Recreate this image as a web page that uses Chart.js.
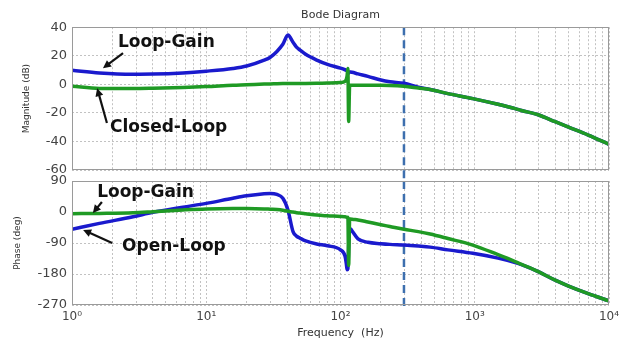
<!DOCTYPE html>
<html><head><meta charset="utf-8">
<script src="https://cdn.jsdelivr.net/npm/chart.js@4.4.1/dist/chart.umd.min.js"></script>
<style>
html,body{margin:0;padding:0;background:#fff;}
#wrap{position:relative;width:635px;height:344px;overflow:hidden;background:#fff;}
#c1wrap{position:absolute;left:0;top:0;width:635px;height:190px;}
#c2wrap{position:absolute;left:0;top:166px;width:635px;height:178px;}
</style></head><body>
<div id="wrap"><div id="c1wrap"><canvas id="mag"></canvas></div><div id="c2wrap"><canvas id="phase"></canvas></div></div>
<script>
// ---- data ----
const FREQ_HZ = [1, 1.6, 2.85, 4, 6.7, 10, 15.8, 20, 27, 30, 33.6, 37.2, 40.6, 44.3, 47, 50, 55, 66.5, 80, 100,
  108, 110.5, 112, 113.5, 115, 117, 119, 122, 135, 160, 200, 233, 297, 380, 465, 631, 967, 1490, 2000, 2230,
  3000, 3970, 5000, 7000, 10000];
const MAG_LOOP_GAIN_DB = [9.9, 8.0, 7.1, 7.2, 8.0, 9.2, 11.1, 12.8, 16.9, 19.0, 23, 28, 34.5, 29.5, 26, 24, 21, 17, 14, 11.3,
  10.2, 9.8, 9.5, 8.5, 7.8, 8.6, 8.6, 8.4, 7.3, 5.6, 3.0, 1.8, 0.7, -2, -3.6, -6.5, -10, -14, -17, -18.3,
  -21.5, -26.2, -30, -35.5, -42];
const MAG_CLOSED_LOOP_DB = [-1.3, -2.9, -2.9, -2.7, -2.2, -1.6, -0.6, -0.3, 0.2, 0.3, 0.4, 0.5, 0.6, 0.6, 0.6, 0.6, 0.6, 0.7, 0.9, 1.2,
  2, 3.5, 6, 11, -26, -0.7, -0.7, -0.7, -0.7, -0.7, -0.7, -0.8, -1.4, -2.6, -3.6, -6.5, -10, -14, -17, -18.3,
  -21.5, -26.2, -30, -35.5, -42];
const PHASE_OPEN_LOOP_DEG = [-50, -33, -14, -1, 14, 25, 40, 47, 53, 54, 51, 40, 6, -57, -70, -76, -84, -93, -98, -110,
  -128, -150, -168, -165, -100, -50, -49, -55, -78, -88, -92, -94, -96, -99, -102, -110, -120, -134, -147, -153,
  -174, -198, -215, -237, -258];
const PHASE_LOOP_GAIN_DEG = [-5, -4, -2, 1, 6, 9, 10, 10, 9, 8, 7, 5, 2, 0, -2, -3, -5, -9, -11, -13,
  -14, -15, -16, -15, -155, -20, -20, -21, -23, -29, -37, -42, -50, -57, -64, -77, -96, -124, -144, -152,
  -174, -198, -215, -237, -258];
const CROSSOVER_HZ = 297;
const X_DECADES = [1, 10, 100, 1000, 10000];
const X_TICK_LABELS = ['10⁰', '10¹', '10²', '10³', '10⁴'];
const MAG_TICKS = [40, 20, 0, -20, -40, -60];
const PHASE_TICKS = [90, 0, -90, -180, -270];

// ---- styling ----
const FONT = "'DejaVu Sans', sans-serif";
const BLUE = '#1a1acd';
const GREEN = '#1f9a24';
const GRID = '#c2c2c2';

const GRID_FREQS = [];
X_DECADES.forEach((d, i) => {
  if (i < X_DECADES.length - 1) { for (let m = 1; m <= 9; m++) GRID_FREQS.push(d * m); }
  else GRID_FREQS.push(d);
});

const pts = (vals) => FREQ_HZ.map((f, i) => ({x: f, y: vals[i]}));

const bodeDecor = {
  id: 'bodeDecor',
  beforeDatasetsDraw(chart, args, opts) {
    const {ctx, chartArea: a, scales: {x}} = chart;
    const px = x.getPixelForValue(CROSSOVER_HZ);
    ctx.save();
    ctx.strokeStyle = '#3d6fae';
    ctx.lineWidth = 2.5;
    ctx.setLineDash([8, 5]);
    ctx.beginPath();
    ctx.moveTo(px, a.top - (opts.extendTop || 0));
    ctx.lineTo(px, a.bottom + (opts.extendBottom || 0));
    ctx.stroke();
    ctx.restore();
  },
  afterDatasetsDraw(chart, args, opts) {
    const {ctx, chartArea: a, scales: {x, y}} = chart;
    ctx.save();
    ctx.strokeStyle = '#9a9a9a';
    ctx.lineWidth = 1;
    ctx.strokeRect(Math.round(a.left) + 0.5, Math.round(a.top) + 0.5, Math.round(a.right - a.left) - 1, Math.round(a.bottom - a.top) - 1);
    (opts.notes || []).forEach(n => {
      ctx.fillStyle = '#111';
      ctx.font = "bold 17px 'DejaVu Sans', sans-serif";
      ctx.textAlign = 'left';
      ctx.textBaseline = 'middle';
      ctx.fillText(n.text, x.getPixelForValue(n.at[0]), y.getPixelForValue(n.at[1]));
      const x1 = x.getPixelForValue(n.from[0]), y1 = y.getPixelForValue(n.from[1]);
      const x2 = x.getPixelForValue(n.to[0]), y2 = y.getPixelForValue(n.to[1]);
      const ang = Math.atan2(y2 - y1, x2 - x1);
      const hl = 8, hw = 4;
      ctx.strokeStyle = '#111';
      ctx.lineWidth = 2.2;
      ctx.beginPath();
      ctx.moveTo(x1, y1);
      ctx.lineTo(x2 - Math.cos(ang) * hl * 0.8, y2 - Math.sin(ang) * hl * 0.8);
      ctx.stroke();
      ctx.beginPath();
      ctx.moveTo(x2, y2);
      ctx.lineTo(x2 - Math.cos(ang) * hl + Math.sin(ang) * hw, y2 - Math.sin(ang) * hl - Math.cos(ang) * hw);
      ctx.lineTo(x2 - Math.cos(ang) * hl - Math.sin(ang) * hw, y2 - Math.sin(ang) * hl + Math.cos(ang) * hw);
      ctx.closePath();
      ctx.fillStyle = '#111';
      ctx.fill();
    });
    ctx.restore();
  }
};

function xScale(showLabels) {
  return {
    type: 'logarithmic',
    min: X_DECADES[0],
    max: X_DECADES[X_DECADES.length - 1],
    afterBuildTicks: s => { s.ticks = GRID_FREQS.map(v => ({value: v, major: X_DECADES.includes(v)})); },
    afterFit: s => { s.height = showLabels ? 39 : 20; },
    grid: {color: GRID, lineWidth: 1, drawTicks: false},
    border: {display: false, dash: [2, 2]},
    ticks: {
      display: showLabels, autoSkip: false, maxRotation: 0, minRotation: 0, padding: 5,
      color: '#444', font: {family: FONT, size: 12},
      callback: v => { const i = X_DECADES.indexOf(v); return i >= 0 ? X_TICK_LABELS[i] : ''; }
    },
    title: showLabels
      ? {display: true, text: 'Frequency  (Hz)', color: '#333', font: {family: FONT, size: 11}, padding: {top: 0, bottom: 4}}
      : {display: false}
  };
}

function yScale(ticksArr, titleText, titlePad) {
  return {
    type: 'linear',
    min: Math.min(...ticksArr),
    max: Math.max(...ticksArr),
    afterBuildTicks: s => { s.ticks = ticksArr.map(v => ({value: v})); },
    afterFit: s => { s.width = 72; },
    grid: {color: GRID, lineWidth: 1, drawTicks: false},
    border: {display: false, dash: [2, 2]},
    ticks: {padding: 5, color: '#444', font: {family: FONT, size: 13}},
    title: {display: true, text: titleText, color: '#333', font: {family: FONT, size: 9}, padding: {top: titlePad, bottom: 0}}
  };
}

function lineSet(label, vals, color, order) {
  return {label, data: pts(vals), borderColor: color, backgroundColor: color, borderWidth: 3.5,
    pointRadius: 0, cubicInterpolationMode: 'monotone', fill: false, order};
}

new Chart(document.getElementById('mag'), {
  type: 'line',
  data: {datasets: [
    lineSet('Closed-Loop', MAG_CLOSED_LOOP_DB, GREEN, 0),
    lineSet('Loop-Gain', MAG_LOOP_GAIN_DB, BLUE, 1)
  ]},
  options: {
    responsive: true, maintainAspectRatio: false, animation: false, devicePixelRatio: 1,
    layout: {padding: {left: 0, right: 26, top: 0, bottom: 0}},
    plugins: {
      legend: {display: false}, tooltip: {enabled: false},
      title: {display: true, text: 'Bode Diagram', fullSize: false, color: '#333',
        font: {family: FONT, size: 11, weight: 'normal'}, padding: {top: 9, bottom: 5}},
      bodeDecor: {extendTop: 0, extendBottom: 11, notes: [
        {text: 'Loop-Gain', at: [2.20, 29.5], from: [2.40, 21.8], to: [1.70, 11.3]},
        {text: 'Closed-Loop', at: [1.92, -30.6], from: [1.82, -27.1], to: [1.54, -2.7]}
      ]}
    },
    scales: {x: xScale(false), y: yScale(MAG_TICKS, 'Magnitude (dB)', 21.6)}
  },
  plugins: [bodeDecor]
});

new Chart(document.getElementById('phase'), {
  type: 'line',
  data: {datasets: [
    lineSet('Loop-Gain', PHASE_LOOP_GAIN_DEG, GREEN, 0),
    lineSet('Open-Loop', PHASE_OPEN_LOOP_DEG, BLUE, 1)
  ]},
  options: {
    responsive: true, maintainAspectRatio: false, animation: false, devicePixelRatio: 1,
    layout: {padding: {left: 0, right: 26, top: 15, bottom: 0}},
    plugins: {
      legend: {display: false}, tooltip: {enabled: false},
      bodeDecor: {extendTop: 0, extendBottom: 2, notes: [
        {text: 'Loop-Gain', at: [1.54, 55], from: [1.67, 29], to: [1.43, -3]},
        {text: 'Open-Loop', at: [2.36, -99], from: [1.99, -90], to: [1.21, -52]}
      ]}
    },
    scales: {x: xScale(true), y: yScale(PHASE_TICKS, 'Phase (deg)', 12.6)}
  },
  plugins: [bodeDecor]
});
</script>
</body></html>
